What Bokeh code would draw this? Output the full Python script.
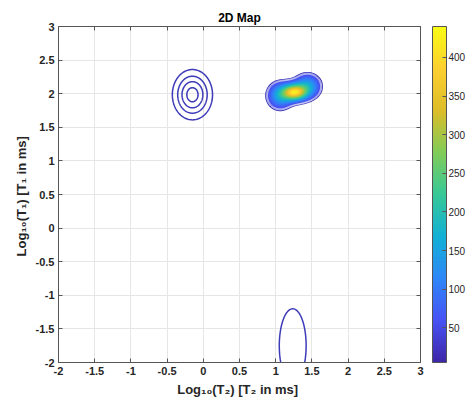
import numpy as np
from bokeh.plotting import figure
from bokeh.models import LinearColorMapper, ColorBar, FixedTicker, LinearAxis, Range1d
from bokeh.embed import file_html
from bokeh.resources import INLINE

# ---- axes ----
x_ticks = [-2, -1.5, -1, -0.5, 0, 0.5, 1, 1.5, 2, 2.5, 3]
x_tick_labels = ["-2", "-1.5", "-1", "-0.5", "0", "0.5", "1", "1.5", "2", "2.5", "3"]
y_ticks = [-2, -1.5, -1, -0.5, 0, 0.5, 1, 1.5, 2, 2.5, 3]
y_tick_labels = ["-2", "-1.5", "-1", "-0.5", "0", "0.5", "1", "1.5", "2", "2.5", "3"]
cbar_ticks = [50, 100, 150, 200, 250, 300, 350, 400]
cbar_low = 5
cbar_high = 440

# ---- peaks shown as coloured map (right cluster) ----
map_peak_x = [1.26, 1.06, 1.44]
map_peak_y = [2.02, 1.97, 2.11]
map_peak_sx = [0.11, 0.115, 0.12]
map_peak_sy = [0.08, 0.13, 0.12]
map_peak_amp = [360, 150, 150]
map_threshold = 35

# ---- peaks shown as contour lines only ----
line_peak_x = [-0.15, 1.235]
line_peak_y = [1.985, -1.75]
line_peak_sx = [0.16, 0.171]
line_peak_sy = [0.216, 0.507]
line_peak_amp = [45, 18]
line_levels = [10, 20, 30, 40]

# parula-like colormap anchors
parula_stops = [(0.2422, 0.1504, 0.6603), (0.2810, 0.3228, 0.9579), (0.1786, 0.5289, 0.9682),
                (0.0689, 0.6948, 0.8394), (0.2161, 0.7843, 0.5923), (0.5044, 0.7993, 0.3480),
                (0.8634, 0.7406, 0.1596), (0.9892, 0.8136, 0.1885), (0.9769, 0.9839, 0.0805)]


def make_palette(stops, n=256):
    arr = np.array(stops)
    t0 = np.linspace(0, 1, len(stops))
    t = np.linspace(0, 1, n)
    out = []
    for v in t:
        r, g, b = (np.interp(v, t0, arr[:, k]) for k in range(3))
        out.append("#%02x%02x%02x" % (int(round(r * 255)), int(round(g * 255)), int(round(b * 255))))
    return out


def field(X, Y, px, py, sx, sy, amp):
    Z = np.zeros_like(X)
    for cx, cy, a, b, A in zip(px, py, sx, sy, amp):
        Z += A * np.exp(-0.5 * (((X - cx) / a) ** 2 + ((Y - cy) / b) ** 2))
    return Z


palette = make_palette(parula_stops)
mapper = LinearColorMapper(palette=palette, low=cbar_low, high=cbar_high, nan_color=(0, 0, 0, 0))

FONT = "Liberation Sans"
TXT = "#262626"
AXC = "#555555"

p = figure(width=468, height=400, output_backend="svg", toolbar_location=None,
           x_range=Range1d(-2, 3), y_range=Range1d(-2, 3),
           min_border_left=58, min_border_top=26, min_border_bottom=38, min_border_right=0)
p.title.text = "2D Map"
p.title.align = "center"
p.title.text_font = FONT
p.title.text_font_style = "bold"
p.title.text_font_size = "12px"
p.title.text_color = "#000000"
p.title.standoff = 4

p.outline_line_color = AXC
p.grid.grid_line_color = "#e6e6e6"
p.xgrid.ticker = FixedTicker(ticks=x_ticks)
p.ygrid.ticker = FixedTicker(ticks=y_ticks)

for ax, ticks, labels in ((p.xaxis[0], x_ticks, x_tick_labels), (p.yaxis[0], y_ticks, y_tick_labels)):
    ax.ticker = FixedTicker(ticks=ticks)
    ax.major_label_overrides = {t: l for t, l in zip(ticks, labels)}
    ax.major_tick_in = 4
    ax.major_tick_out = 0
    ax.minor_tick_line_color = None
    ax.axis_line_color = AXC
    ax.major_tick_line_color = AXC
    ax.major_label_text_font = FONT
    ax.major_label_text_font_style = "bold"
    ax.major_label_text_font_size = "11px"
    ax.major_label_text_color = TXT
    ax.axis_label_text_font = FONT
    ax.axis_label_text_font_style = "bold"
    ax.axis_label_text_font_size = "13px"
    ax.axis_label_text_color = TXT
    ax.major_label_standoff = 4
    ax.axis_label_standoff = 4

p.xaxis.axis_label = "Log\u2081\u2080(T\u2082)  [T\u2082 in ms]"
p.yaxis.axis_label = "Log\u2081\u2080(T\u2081)  [T\u2081 in ms]"

# box ticks on top and right (no labels)
for side, ticks, std, fs in (("above", x_ticks, 0, "0px"), ("right", y_ticks, 9, "1px")):
    bx = LinearAxis(ticker=FixedTicker(ticks=ticks), major_tick_in=4, major_tick_out=0,
                    minor_tick_line_color=None, axis_line_color=AXC, major_tick_line_color=AXC,
                    major_label_overrides={t: " " for t in ticks},
                    major_label_text_font_size=fs, major_label_text_color="#ffffff",
                    major_label_standoff=std)
    p.add_layout(bx, side)

# contour-line peaks
gx = np.linspace(-2, 3, 501)
gy = np.linspace(-2, 3, 501)
GX, GY = np.meshgrid(gx, gy)
ZL = field(GX, GY, line_peak_x, line_peak_y, line_peak_sx, line_peak_sy, line_peak_amp)
p.contour(GX, GY, ZL, line_levels, line_color="#3d3bb8", line_width=1.5)

# coloured map
mx = np.linspace(0.6, 1.9, 261)
my = np.linspace(1.55, 2.55, 201)
MX, MY = np.meshgrid(mx, my)
ZM = field(MX, MY, map_peak_x, map_peak_y, map_peak_sx, map_peak_sy, map_peak_amp)
ZI = np.where(ZM >= map_threshold, ZM, np.nan)
p.image(image=[ZI], x=0.6, y=1.55, dw=1.3, dh=1.0, color_mapper=mapper)
p.contour(MX, MY, ZM, [map_threshold], line_color="#3d3bb8", line_width=1.2)
p.contour(MX, MY, ZM, [map_threshold + 6, map_threshold + 14], line_color="#ffffff", line_width=0.9, line_alpha=0.8)

cb = ColorBar(color_mapper=mapper, ticker=FixedTicker(ticks=cbar_ticks), width=14,
              padding=0, margin=0, label_standoff=2, major_tick_in=4, major_tick_out=0,
              major_tick_line_color=AXC, bar_line_color=AXC,
              major_label_text_font=FONT, major_label_text_font_size="10px",
              major_label_text_color=TXT, background_fill_alpha=0, border_line_color=None)
p.add_layout(cb, "right")

open("out.html", "w").write(file_html(p, INLINE))
